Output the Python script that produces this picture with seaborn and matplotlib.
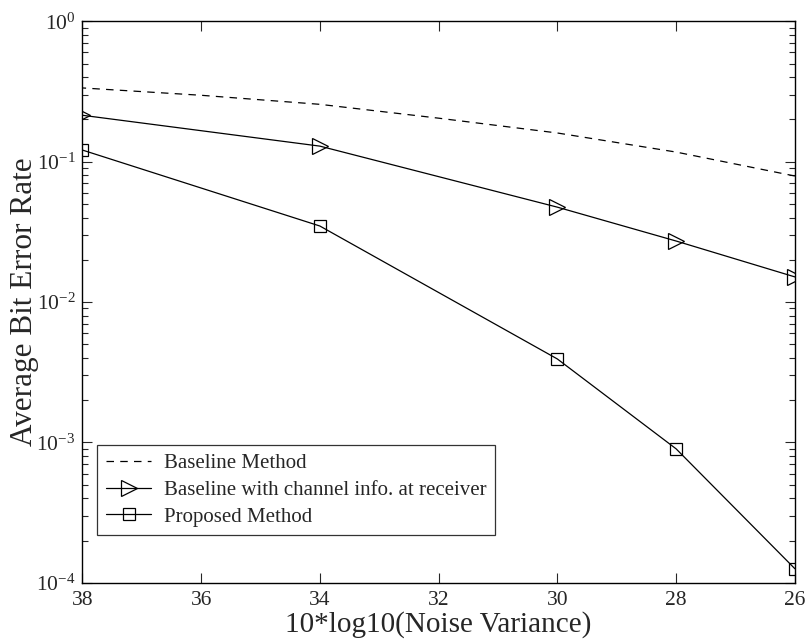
import matplotlib
matplotlib.use("Agg")
import matplotlib.pyplot as plt
import seaborn as sns
import pandas as pd
import numpy as np

# values
noise_db = [38, 36, 34, 32, 30, 28, 26]
baseline = [0.335, 0.297, 0.256, 0.204, 0.16, 0.117, 0.079]

noise_db_m = [38, 34, 30, 28, 26]
baseline_rx = [0.214, 0.129, 0.0474, 0.0272, 0.0151]
proposed = [0.121, 0.0348, 0.00393, 0.0009, 0.000126]

labels = ["Baseline Method",
          "Baseline with channel info. at receiver",
          "Proposed Method"]

sns.set_style("ticks")
plt.rcParams['font.family'] = ['Liberation Serif', 'DejaVu Serif']
plt.rcParams['mathtext.fontset'] = 'stix'

fig, ax = plt.subplots(figsize=(8.07, 6.44), dpi=100)

sns.lineplot(x=noise_db, y=baseline, ax=ax, color='black', lw=0.9,
             linestyle=(0, (6, 5)), label=labels[0])
sns.lineplot(x=noise_db_m, y=baseline_rx, ax=ax, color='black', lw=0.9,
             marker='>', markersize=12, markerfacecolor='none',
             markeredgecolor='black', markeredgewidth=0.9, label=labels[1])
sns.lineplot(x=noise_db_m, y=proposed, ax=ax, color='black', lw=0.9,
             marker='s', markersize=8, markerfacecolor='none',
             markeredgecolor='black', markeredgewidth=0.9, label=labels[2])

ax.set_yscale('log')
ax.set_ylim(1e-4, 1)
ax.set_xlim(38, 26)
ax.set_xticks([38, 36, 34, 32, 30, 28, 26])
ax.set_yticks([1e-4, 1e-3, 1e-2, 1e-1, 1])

ax.tick_params(which='both', direction='in', top=True, right=True,
               labelsize=15.5, width=0.8)
ax.tick_params(axis='x', pad=6)
ax.tick_params(axis='y', pad=5)
ax.tick_params(which='major', length=7)
ax.tick_params(which='minor', length=4)
for s in ax.spines.values():
    s.set_linewidth(1.0)
    s.set_color('black')

ax.set_xlabel("10*log10(Noise Variance)", fontsize=21, labelpad=1)
ax.set_ylabel("Average Bit Error Rate", fontsize=22.5, labelpad=-2)

leg = ax.legend(loc='lower left', bbox_to_anchor=(0.021, 0.085), fontsize=15,
                frameon=True, fancybox=False, edgecolor='black',
                handlelength=2.2, borderpad=0.4, labelspacing=0.35,
                handletextpad=0.6, borderaxespad=0)
leg.get_frame().set_linewidth(0.9)

fig.subplots_adjust(left=0.102, right=0.985, top=0.967, bottom=0.095)
fig.savefig("out.png", dpi=100)
